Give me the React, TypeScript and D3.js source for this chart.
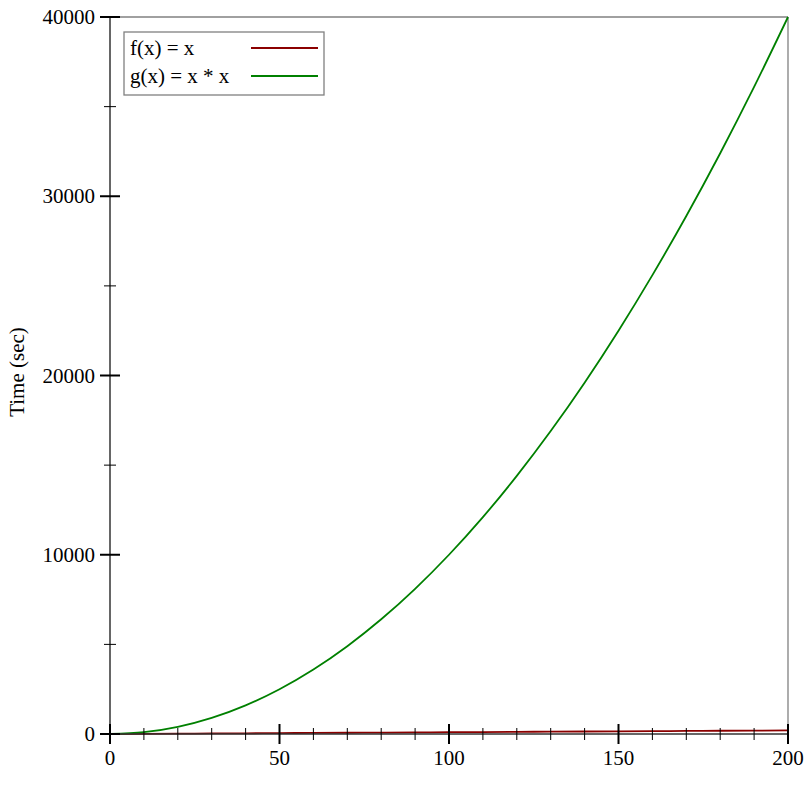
import React from "react";
import * as d3 from "d3";

const xValues = [0, 10, 20, 30, 40, 50, 60, 70, 80, 90, 100, 110, 120, 130, 140, 150, 160, 170, 180, 190, 200];
const fValues = [0, 10, 20, 30, 40, 50, 60, 70, 80, 90, 100, 110, 120, 130, 140, 150, 160, 170, 180, 190, 200];
const gValues = [0, 100, 400, 900, 1600, 2500, 3600, 4900, 6400, 8100, 10000, 12100, 14400, 16900, 19600, 22500, 25600, 28900, 32400, 36100, 40000];
const seriesNames = ["f(x) = x", "g(x) = x * x"];
const seriesColors = ["#8b0000", "#008000"];
const xMajorTicks = [0, 50, 100, 150, 200];
const xMinorTicks = [10, 20, 30, 40, 60, 70, 80, 90, 110, 120, 130, 140, 160, 170, 180, 190];
const yMajorTicks = [0, 10000, 20000, 30000, 40000];
const yMinorTicks = [5000, 15000, 25000, 35000];
const yLabel = "Time (sec)";

export default function App() {
  const W = 812, H = 812;
  const left = 110, right = 788, top = 17, bottom = 734;
  const x = d3.scaleLinear().domain([0, 200]).range([left, right]);
  const y = d3.scaleLinear().domain([0, 40000]).range([bottom, top]);
  const font = "'Liberation Serif', 'Times New Roman', serif";
  const fs = 21;
  const line = d3.line<[number, number]>().x(d => x(d[0])).y(d => y(d[1])).curve(d3.curveMonotoneX);
  const series = [fValues, gValues].map(vals => xValues.map((xv, i) => [xv, vals[i]] as [number, number]));

  return (
    <svg width={W} height={H} style={{ position: "absolute", left: 0, top: 0, background: "#fff" }}>
      <rect x={0} y={0} width={W} height={H} fill="#fff" />
      {/* frame */}
      <line x1={left} x2={right} y1={top} y2={top} stroke="#808080" strokeWidth={1.3} />
      <line x1={right} x2={right} y1={top} y2={bottom} stroke="#808080" strokeWidth={1.3} />
      {/* series */}
      {series.map((pts, i) => (
        <path key={i} d={line(pts) || ""} fill="none" stroke={seriesColors[i]} strokeWidth={1.8} />
      ))}
      {/* axes */}
      <line x1={left} x2={left} y1={top} y2={bottom} stroke="#333" strokeWidth={1.5} />
      <line x1={left} x2={right} y1={bottom} y2={bottom} stroke="#333" strokeWidth={1.5} />
      {xMajorTicks.map(t => (
        <g key={"xM" + t}>
          <line x1={x(t)} x2={x(t)} y1={bottom - 10} y2={bottom + 10} stroke="#000" strokeWidth={2} />
          <text x={x(t)} y={765} textAnchor="middle" fontFamily={font} fontSize={fs} fill="#000">{t}</text>
        </g>
      ))}
      {xMinorTicks.map(t => (
        <line key={"xm" + t} x1={x(t)} x2={x(t)} y1={bottom - 6} y2={bottom + 6} stroke="#000" strokeWidth={1} />
      ))}
      {yMajorTicks.map(t => (
        <g key={"yM" + t}>
          <line x1={left - 10} x2={left + 10} y1={y(t)} y2={y(t)} stroke="#000" strokeWidth={2} />
          <text x={95} y={y(t) + 7} textAnchor="end" fontFamily={font} fontSize={fs} fill="#000">{t}</text>
        </g>
      ))}
      {yMinorTicks.map(t => (
        <line key={"ym" + t} x1={left - 6} x2={left + 6} y1={y(t)} y2={y(t)} stroke="#000" strokeWidth={1} />
      ))}
      <text transform={`translate(24, 372) rotate(-90)`} textAnchor="middle" fontFamily={font} fontSize={fs} fill="#000">{yLabel}</text>
      {/* legend */}
      <rect x={124} y={32} width={200} height={63} fill="#fff" stroke="#808080" strokeWidth={1.3} />
      {seriesNames.map((n, i) => (
        <g key={n}>
          <text x={130} y={55 + i * 28} fontFamily={font} fontSize={fs} fill="#000">{n}</text>
          <line x1={251} x2={318} y1={48 + i * 28} y2={48 + i * 28} stroke={seriesColors[i]} strokeWidth={2} />
        </g>
      ))}
    </svg>
  );
}
